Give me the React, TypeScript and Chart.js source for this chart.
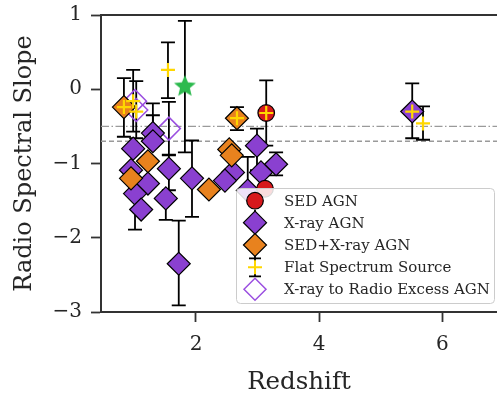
import React, { useEffect, useRef } from 'react';
import { Chart, registerables } from 'chart.js';
Chart.register(...registerables);

// ---------- data ----------
const sedX = [3.14, 3.12];
const sedY = [-0.32, -1.34];
const sedHi: (number | null)[] = [0.12, null];
const sedLo: (number | null)[] = [-0.76, null];

const xrayX = [0.98, 1.30, 1.30, 0.945, 1.22, 1.01, 1.11, 1.56, 1.51, 1.935, 1.72, 2.99, 2.60, 2.47, 3.055, 3.30, 2.84, 5.51];
const xrayY = [-0.80, -0.59, -0.70, -1.09, -1.27, -1.405, -1.62, -1.07, -1.47, -1.20, -2.35, -0.76, -1.12, -1.23, -1.12, -1.01, -1.365, -0.30];
const xrayHi: (number | null)[] = [null, -0.19, -0.35, null, null, -1.2, null, -0.88, null, -0.69, -1.77, -0.53, null, null, null, -0.85, -0.91, 0.08];
const xrayLo: (number | null)[] = [null, null, null, null, null, -1.89, null, -1.36, -1.76, -1.72, -2.91, -1.09, null, null, null, -1.16, null, -0.66];

const bothX = [0.83, 1.22, 0.945, 2.21, 2.54, 2.58, 2.665];
const bothY = [-0.24, -0.97, -1.20, -1.35, -0.81, -0.89, -0.39];
const bothHi: (number | null)[] = [0.15, null, null, null, null, null, -0.24];
const bothLo: (number | null)[] = [-0.64, null, null, null, null, null, -0.55];

const flatX = [0.83, 0.98, 1.03, 1.545, 2.665, 3.14, 5.51, 5.685];
const flatY = [-0.24, -0.16, -0.30, 0.26, -0.39, -0.32, -0.30, -0.46];
const flatHi: (number | null)[] = [null, 0.26, 0.11, 0.63, null, null, null, -0.23];
const flatLo: (number | null)[] = [null, -0.57, -0.66, -0.12, null, null, null, -0.68];

const excessX = [1.01, 1.03, 1.56];
const excessY = [-0.16, -0.28, -0.53];
const excessHi: (number | null)[] = [null, null, -0.17];
const excessLo: (number | null)[] = [null, null, -0.89];

const starX = [1.82];
const starY = [0.05];
const starHi: (number | null)[] = [0.92];
const starLo: (number | null)[] = [-0.85];

const xTicks = [2, 4, 6];
const yTicks = [-3, -2, -1, 0, 1];
const refLines = [-0.5, -0.7];

const legendLabels = ['SED AGN', 'X-ray AGN', 'SED+X-ray AGN', 'Flat Spectrum Source', 'X-ray to Radio Excess AGN'];

const RED = '#D7191C';
const PURPLE = '#8A40D0';
const ORANGE = '#E8821E';
const GOLD = '#FFD700';
const GREEN = '#2DBA4E';
const OPEN = '#9B4FE0';
const SPINE = '#333333';
const FONT = "'DejaVu Serif', serif";

const pts = (xs: number[], ys: number[]) => xs.map((x, i) => ({ x, y: ys[i] }));

const errSets = [
  { x: sedX, y: sedY, hi: sedHi, lo: sedLo },
  { x: xrayX, y: xrayY, hi: xrayHi, lo: xrayLo },
  { x: bothX, y: bothY, hi: bothHi, lo: bothLo },
  { x: flatX, y: flatY, hi: flatHi, lo: flatLo },
  { x: excessX, y: excessY, hi: excessHi, lo: excessLo },
  { x: starX, y: starY, hi: starHi, lo: starLo },
];

function makeStar(size: number, color: string) {
  const c = document.createElement('canvas');
  c.width = size;
  c.height = size;
  const g = c.getContext('2d')!;
  const cx = size / 2, cy = size / 2 + 1, R = size / 2 - 0.5, r = R * 0.45;
  g.beginPath();
  for (let i = 0; i < 10; i++) {
    const a = -Math.PI / 2 + (i * Math.PI) / 5;
    const rad = i % 2 === 0 ? R : r;
    g.lineTo(cx + rad * Math.cos(a), cy + rad * Math.sin(a));
  }
  g.closePath();
  g.fillStyle = color;
  g.fill();
  return c;
}

const errorBarPlugin = {
  id: 'errbars',
  beforeDatasetsDraw(chart: any) {
    const { ctx, chartArea, scales } = chart;
    const xs = scales.x, ys = scales.y;
    ctx.save();
    ctx.strokeStyle = '#9a9a9a';
    ctx.lineWidth = 1.3;
    refLines.forEach((v, i) => {
      ctx.setLineDash(i === 0 ? [8, 2.5, 1.5, 2.5] : [5, 3]);
      const py = ys.getPixelForValue(v);
      ctx.beginPath();
      ctx.moveTo(chartArea.left, py);
      ctx.lineTo(chartArea.right, py);
      ctx.stroke();
    });
    ctx.setLineDash([]);
    ctx.strokeStyle = '#000';
    ctx.lineWidth = 1.8;
    const cap = 7;
    errSets.forEach((s) => {
      s.x.forEach((xv, i) => {
        const hi = s.hi[i], lo = s.lo[i];
        if (hi == null && lo == null) return;
        const px = xs.getPixelForValue(xv);
        const top = ys.getPixelForValue(hi == null ? s.y[i] : hi);
        const bot = ys.getPixelForValue(lo == null ? s.y[i] : lo);
        ctx.beginPath();
        ctx.moveTo(px, top);
        ctx.lineTo(px, bot);
        if (hi != null) { ctx.moveTo(px - cap, top); ctx.lineTo(px + cap, top); }
        if (lo != null) { ctx.moveTo(px - cap, bot); ctx.lineTo(px + cap, bot); }
        ctx.stroke();
      });
    });
    ctx.restore();
  },
  afterDraw(chart: any) {
    const { ctx, chartArea } = chart;
    ctx.save();
    ctx.strokeStyle = SPINE;
    ctx.lineWidth = 2;
    ctx.beginPath();
    ctx.moveTo(chartArea.left - 1, chartArea.top);
    ctx.lineTo(chartArea.right, chartArea.top);
    ctx.stroke();

    // legend
    const bx = 236.5, by = 188.5, bw = 258, bh = 115;
    ctx.beginPath();
    (ctx as any).roundRect(bx, by, bw, bh, 4);
    ctx.fillStyle = 'rgba(255,255,255,0.85)';
    ctx.fill();
    ctx.strokeStyle = '#cccccc';
    ctx.lineWidth = 1;
    ctx.stroke();
    const rows = [200.7, 222.7, 245, 267.3, 289.3];
    const mx = 255;
    const diamond = (y: number, r: number) => {
      ctx.beginPath();
      ctx.moveTo(mx - r, y);
      ctx.lineTo(mx, y - r);
      ctx.lineTo(mx + r, y);
      ctx.lineTo(mx, y + r);
      ctx.closePath();
    };
    ctx.beginPath();
    ctx.arc(mx, rows[0], 8.3, 0, Math.PI * 2);
    ctx.fillStyle = RED; ctx.fill();
    ctx.strokeStyle = '#000'; ctx.lineWidth = 1.2; ctx.stroke();
    ctx.strokeStyle = '#000'; ctx.lineWidth = 1.8;
    [rows[1], rows[2]].forEach((y) => {
      ctx.beginPath(); ctx.moveTo(mx, y - 13); ctx.lineTo(mx, y + 13); ctx.stroke();
    });
    diamond(rows[1], 11.5);
    ctx.fillStyle = PURPLE; ctx.fill(); ctx.lineWidth = 1.2; ctx.stroke();
    diamond(rows[2], 11.5);
    ctx.fillStyle = ORANGE; ctx.fill(); ctx.stroke();
    ctx.lineWidth = 1.8; ctx.strokeStyle = '#000';
    ctx.beginPath();
    ctx.moveTo(mx, rows[3] - 9); ctx.lineTo(mx, rows[3] + 9);
    ctx.moveTo(mx - 6, rows[3] - 9); ctx.lineTo(mx + 6, rows[3] - 9);
    ctx.moveTo(mx - 6, rows[3] + 9); ctx.lineTo(mx + 6, rows[3] + 9);
    ctx.stroke();
    ctx.strokeStyle = GOLD; ctx.lineWidth = 2;
    ctx.beginPath();
    ctx.moveTo(mx - 7, rows[3]); ctx.lineTo(mx + 7, rows[3]);
    ctx.moveTo(mx, rows[3] - 7); ctx.lineTo(mx, rows[3] + 7);
    ctx.stroke();
    diamond(rows[4], 11);
    ctx.strokeStyle = OPEN; ctx.lineWidth = 1.5; ctx.stroke();

    ctx.fillStyle = '#262626';
    ctx.font = `15px ${FONT}`;
    ctx.textBaseline = 'middle';
    ctx.textAlign = 'left';
    legendLabels.forEach((t, i) => ctx.fillText(t, 284, rows[i] + 1));
    ctx.restore();
  },
};

export default function App() {
  const ref = useRef<HTMLCanvasElement>(null);
  useEffect(() => {
    document.body.style.margin = '0';
    const star = makeStar(24, GREEN);
    const chart = new Chart(ref.current!, {
      type: 'scatter',
      data: {
        datasets: [
          {
            label: 'Flat Spectrum Source', data: pts(flatX, flatY), order: 0,
            pointStyle: 'cross', radius: 7, borderColor: GOLD, borderWidth: 2.2, backgroundColor: GOLD,
          },
          {
            label: 'star', data: pts(starX, starY), order: 1, pointStyle: star as any, radius: 12,
          },
          {
            label: 'SED AGN', data: pts(sedX, sedY), order: 2,
            pointStyle: 'circle', radius: 8.3, backgroundColor: RED, borderColor: '#000', borderWidth: 1.2,
          },
          {
            label: 'SED+X-ray AGN', data: pts(bothX, bothY), order: 3,
            pointStyle: 'rectRot', radius: 11.5, backgroundColor: ORANGE, borderColor: '#000', borderWidth: 1.2,
          },
          {
            label: 'X-ray AGN', data: pts(xrayX, xrayY), order: 4,
            pointStyle: 'rectRot', radius: 11.5, backgroundColor: PURPLE, borderColor: '#000', borderWidth: 1.2,
          },
          {
            label: 'X-ray to Radio Excess AGN', data: pts(excessX, excessY), order: 5,
            pointStyle: 'rectRot', radius: 11.5, backgroundColor: 'rgba(0,0,0,0)', borderColor: OPEN, borderWidth: 1.5,
          },
        ],
      },
      options: {
        animation: false,
        responsive: false,
        events: [],
        layout: { autoPadding: false, padding: { top: 15, left: 0, right: 0, bottom: 0 } },
        plugins: { legend: { display: false }, tooltip: { enabled: false } },
        elements: { point: { hoverRadius: 0 } as any },
        scales: {
          x: {
            type: 'linear', min: 0.458, max: 6.886, position: 'bottom',
            afterFit: (s: any) => { s.height = 85; s.paddingLeft = 0; s.paddingRight = 0; },
            afterBuildTicks: (s: any) => { s.ticks = xTicks.map((v) => ({ value: v })); },
            grid: { display: true, drawOnChartArea: false, drawTicks: true, tickLength: 10, tickWidth: 1.8, tickColor: SPINE },
            border: { display: true, color: SPINE, width: 2 },
            ticks: { color: '#262626', font: { family: FONT, size: 20 }, padding: 11, callback: (v: any) => String(v) },
            title: { display: true, text: 'Redshift', color: '#262626', font: { family: FONT, size: 24.5 }, padding: { top: 0, bottom: 0 } },
          },
          y: {
            type: 'linear', min: -3, max: 1,
            afterFit: (s: any) => { s.width = 101; s.paddingTop = 0; s.paddingBottom = 0; },
            afterBuildTicks: (s: any) => { s.ticks = yTicks.map((v) => ({ value: v })); },
            grid: { display: true, drawOnChartArea: false, drawTicks: true, tickLength: 10, tickWidth: 1.8, tickColor: SPINE },
            border: { display: true, color: SPINE, width: 2 },
            ticks: {
              color: '#262626', font: { family: FONT, size: 20 }, padding: 9,
              callback: (v: any) => (v < 0 ? '\u2212' + Math.abs(v) : String(v)),
            },
            title: { display: true, text: 'Radio Spectral Slope', color: '#262626', font: { family: FONT, size: 24 }, padding: { top: 10, bottom: 0 } },
          },
        },
      },
      plugins: [errorBarPlugin],
    });
    return () => chart.destroy();
  }, []);
  return (
    <div style={{ position: 'fixed', left: 0, top: 0, width: 497, height: 397 }}>
      <canvas ref={ref} width={497} height={397} style={{ display: 'block', width: 497, height: 397 }} />
    </div>
  );
}
